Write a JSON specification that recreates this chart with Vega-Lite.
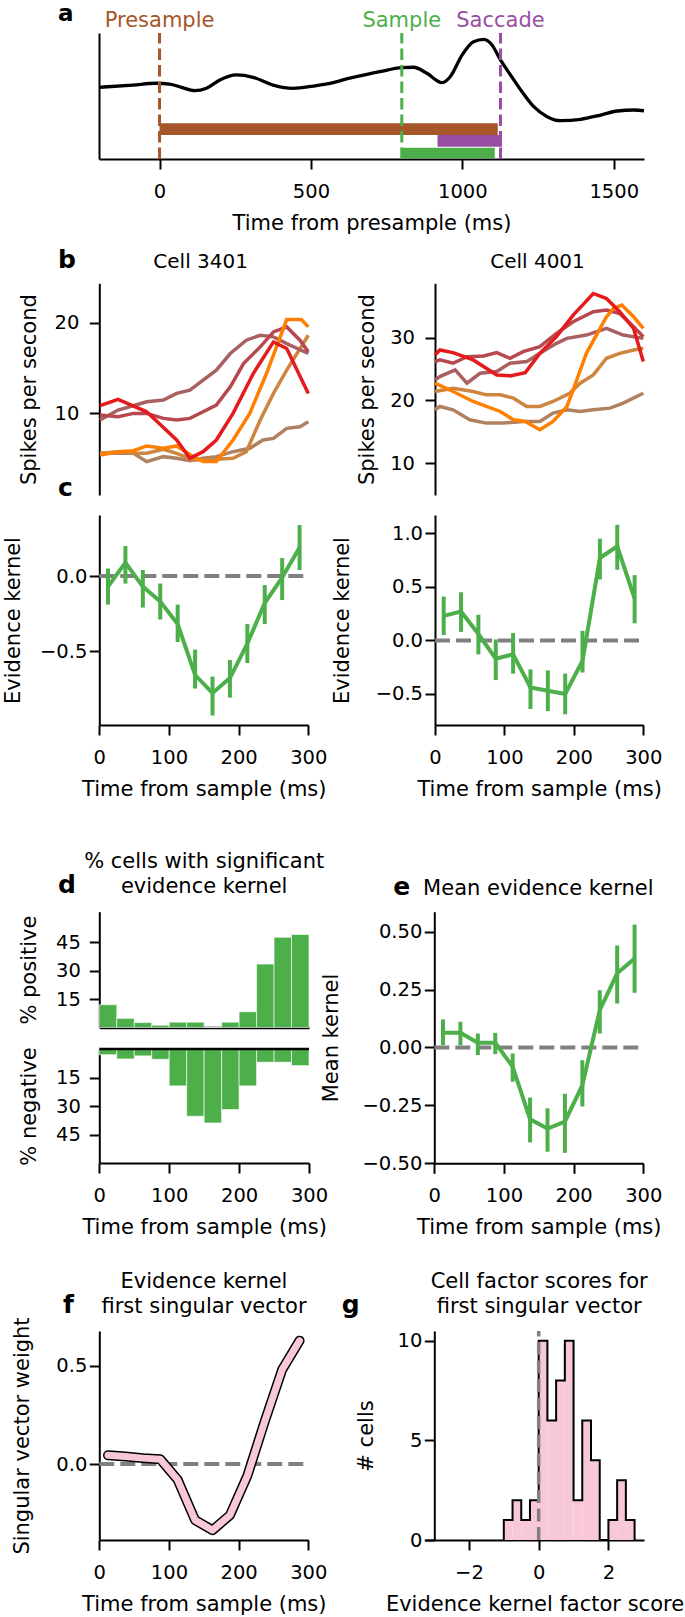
{
  "$schema": "https://vega.github.io/schema/vega-lite/v6.json",
  "width": 685,
  "height": 1617,
  "autosize": "none",
  "padding": 0,
  "background": "white",
  "config": {
    "view": {"stroke": null},
    "font": "DejaVu Sans",
    "axis": {"grid": false, "domainColor": "#000", "domainWidth": 2, "tickColor": "#000", "tickWidth": 2, "tickSize": 10, "labelFont": "DejaVu Sans", "labelFontSize": 19.5, "labelColor": "#000", "titleFont": "DejaVu Sans", "titleFontSize": 21, "titleFontWeight": "normal", "titleColor": "#000", "labelFlush": false, "labelOverlap": false},
    "text": {"font": "DejaVu Sans", "color": "#000"}
  },
  "resolve": {"scale": {"x": "independent", "y": "independent", "color": "independent"}, "axis": {"x": "independent", "y": "independent"}},
  "datasets": {
    "a_curve": [
      {"t": -200, "v": 0.569}, {"t": -88, "v": 0.587}, {"t": -11, "v": 0.601}, {"t": 33, "v": 0.595}, {"t": 72, "v": 0.569}, {"t": 116, "v": 0.542}, {"t": 155, "v": 0.561}, {"t": 199, "v": 0.627}, {"t": 254, "v": 0.667}, {"t": 309, "v": 0.648}, {"t": 375, "v": 0.587}, {"t": 441, "v": 0.561}, {"t": 508, "v": 0.579}, {"t": 574, "v": 0.606}, {"t": 613, "v": 0.632}, {"t": 662, "v": 0.659}, {"t": 728, "v": 0.693}, {"t": 800, "v": 0.725}, {"t": 839, "v": 0.728}, {"t": 883, "v": 0.68}, {"t": 933, "v": 0.606}, {"t": 960, "v": 0.653}, {"t": 999, "v": 0.825}, {"t": 1037, "v": 0.931}, {"t": 1071, "v": 0.95}, {"t": 1098, "v": 0.905}, {"t": 1126, "v": 0.786}, {"t": 1159, "v": 0.667}, {"t": 1197, "v": 0.534}, {"t": 1236, "v": 0.415}, {"t": 1280, "v": 0.336}, {"t": 1325, "v": 0.304}, {"t": 1391, "v": 0.315}, {"t": 1457, "v": 0.349}, {"t": 1512, "v": 0.381}, {"t": 1567, "v": 0.389}, {"t": 1600, "v": 0.383}
    ],
    "a_epochs": [
      {"epoch": "Presample", "start": 0, "end": 1117},
      {"epoch": "Saccade", "start": 918, "end": 1131},
      {"epoch": "Sample", "start": 797, "end": 1107}
    ],
    "a_events": [
      {"event": "Presample", "t": 0},
      {"event": "Sample", "t": 800},
      {"event": "Saccade", "t": 1126}
    ],
    "b_left": [
      {"cond": "1", "t": 1, "v": 5.59}, {"cond": "1", "t": 49, "v": 5.59}, {"cond": "1", "t": 68, "v": 4.67}, {"cond": "1", "t": 92, "v": 5.22}, {"cond": "1", "t": 111, "v": 5.04}, {"cond": "1", "t": 130, "v": 4.78}, {"cond": "1", "t": 149, "v": 5.04}, {"cond": "1", "t": 168, "v": 5.22}, {"cond": "1", "t": 192, "v": 5.77}, {"cond": "1", "t": 216, "v": 6.14}, {"cond": "1", "t": 235, "v": 7.06}, {"cond": "1", "t": 250, "v": 7.24}, {"cond": "1", "t": 269, "v": 8.35}, {"cond": "1", "t": 288, "v": 8.53}, {"cond": "1", "t": 300, "v": 9.08},
      {"cond": "2", "t": 1, "v": 5.59}, {"cond": "2", "t": 27, "v": 5.77}, {"cond": "2", "t": 49, "v": 5.59}, {"cond": "2", "t": 68, "v": 5.59}, {"cond": "2", "t": 92, "v": 6.03}, {"cond": "2", "t": 111, "v": 5.59}, {"cond": "2", "t": 135, "v": 4.85}, {"cond": "2", "t": 168, "v": 4.93}, {"cond": "2", "t": 192, "v": 5.04}, {"cond": "2", "t": 211, "v": 5.77}, {"cond": "2", "t": 231, "v": 9.26}, {"cond": "2", "t": 250, "v": 12.21}, {"cond": "2", "t": 269, "v": 14.78}, {"cond": "2", "t": 300, "v": 18.64},
      {"cond": "4", "t": 1, "v": 9.26}, {"cond": "4", "t": 27, "v": 10.37}, {"cond": "4", "t": 68, "v": 11.29}, {"cond": "4", "t": 92, "v": 11.47}, {"cond": "4", "t": 111, "v": 12.21}, {"cond": "4", "t": 130, "v": 12.57}, {"cond": "4", "t": 149, "v": 13.68}, {"cond": "4", "t": 168, "v": 14.78}, {"cond": "4", "t": 188, "v": 16.62}, {"cond": "4", "t": 211, "v": 18.09}, {"cond": "4", "t": 231, "v": 18.64}, {"cond": "4", "t": 250, "v": 18.46}, {"cond": "4", "t": 269, "v": 17.72}, {"cond": "4", "t": 300, "v": 16.62},
      {"cond": "5", "t": 1, "v": 9.82}, {"cond": "5", "t": 27, "v": 9.63}, {"cond": "5", "t": 49, "v": 10.0}, {"cond": "5", "t": 68, "v": 10.0}, {"cond": "5", "t": 92, "v": 9.45}, {"cond": "5", "t": 111, "v": 9.26}, {"cond": "5", "t": 130, "v": 9.45}, {"cond": "5", "t": 149, "v": 10.18}, {"cond": "5", "t": 168, "v": 10.92}, {"cond": "5", "t": 188, "v": 12.94}, {"cond": "5", "t": 207, "v": 15.51}, {"cond": "5", "t": 231, "v": 17.35}, {"cond": "5", "t": 250, "v": 19.01}, {"cond": "5", "t": 269, "v": 19.56}, {"cond": "5", "t": 288, "v": 18.09}, {"cond": "5", "t": 300, "v": 16.8},
      {"cond": "3", "t": 1, "v": 5.4}, {"cond": "3", "t": 27, "v": 5.77}, {"cond": "3", "t": 49, "v": 5.88}, {"cond": "3", "t": 68, "v": 6.4}, {"cond": "3", "t": 92, "v": 6.14}, {"cond": "3", "t": 111, "v": 6.4}, {"cond": "3", "t": 135, "v": 5.22}, {"cond": "3", "t": 149, "v": 4.67}, {"cond": "3", "t": 168, "v": 4.67}, {"cond": "3", "t": 192, "v": 7.06}, {"cond": "3", "t": 216, "v": 10.0}, {"cond": "3", "t": 240, "v": 14.41}, {"cond": "3", "t": 269, "v": 20.37}, {"cond": "3", "t": 290, "v": 20.37}, {"cond": "3", "t": 300, "v": 19.56},
      {"cond": "6", "t": 1, "v": 10.85}, {"cond": "6", "t": 27, "v": 11.54}, {"cond": "6", "t": 68, "v": 10.18}, {"cond": "6", "t": 111, "v": 7.06}, {"cond": "6", "t": 130, "v": 5.04}, {"cond": "6", "t": 149, "v": 5.77}, {"cond": "6", "t": 168, "v": 7.06}, {"cond": "6", "t": 192, "v": 10.0}, {"cond": "6", "t": 221, "v": 14.41}, {"cond": "6", "t": 250, "v": 17.9}, {"cond": "6", "t": 269, "v": 17.17}, {"cond": "6", "t": 300, "v": 12.21}
    ],
    "b_right": [
      {"cond": "1", "t": 0, "v": 18.52}, {"cond": "1", "t": 7, "v": 19.05}, {"cond": "1", "t": 26, "v": 18.52}, {"cond": "1", "t": 50, "v": 16.93}, {"cond": "1", "t": 74, "v": 16.4}, {"cond": "1", "t": 98, "v": 16.4}, {"cond": "1", "t": 127, "v": 16.67}, {"cond": "1", "t": 151, "v": 16.67}, {"cond": "1", "t": 170, "v": 17.99}, {"cond": "1", "t": 190, "v": 18.52}, {"cond": "1", "t": 209, "v": 18.25}, {"cond": "1", "t": 228, "v": 18.52}, {"cond": "1", "t": 252, "v": 18.78}, {"cond": "1", "t": 271, "v": 19.58}, {"cond": "1", "t": 300, "v": 21.16},
      {"cond": "2", "t": 0, "v": 21.43}, {"cond": "2", "t": 26, "v": 21.96}, {"cond": "2", "t": 55, "v": 21.43}, {"cond": "2", "t": 74, "v": 20.9}, {"cond": "2", "t": 94, "v": 20.9}, {"cond": "2", "t": 113, "v": 20.37}, {"cond": "2", "t": 132, "v": 19.05}, {"cond": "2", "t": 151, "v": 19.05}, {"cond": "2", "t": 170, "v": 19.84}, {"cond": "2", "t": 194, "v": 21.16}, {"cond": "2", "t": 209, "v": 22.75}, {"cond": "2", "t": 228, "v": 24.07}, {"cond": "2", "t": 247, "v": 26.72}, {"cond": "2", "t": 266, "v": 27.51}, {"cond": "2", "t": 286, "v": 28.04}, {"cond": "2", "t": 300, "v": 28.31},
      {"cond": "4", "t": 0, "v": 23.28}, {"cond": "4", "t": 7, "v": 23.81}, {"cond": "4", "t": 29, "v": 24.87}, {"cond": "4", "t": 46, "v": 22.75}, {"cond": "4", "t": 65, "v": 24.34}, {"cond": "4", "t": 89, "v": 24.6}, {"cond": "4", "t": 108, "v": 25.93}, {"cond": "4", "t": 132, "v": 26.19}, {"cond": "4", "t": 151, "v": 27.51}, {"cond": "4", "t": 175, "v": 29.1}, {"cond": "4", "t": 190, "v": 29.89}, {"cond": "4", "t": 218, "v": 30.42}, {"cond": "4", "t": 247, "v": 31.48}, {"cond": "4", "t": 271, "v": 30.42}, {"cond": "4", "t": 300, "v": 29.89},
      {"cond": "5", "t": 0, "v": 26.19}, {"cond": "5", "t": 7, "v": 26.46}, {"cond": "5", "t": 26, "v": 25.93}, {"cond": "5", "t": 46, "v": 26.98}, {"cond": "5", "t": 70, "v": 27.09}, {"cond": "5", "t": 89, "v": 27.62}, {"cond": "5", "t": 108, "v": 26.72}, {"cond": "5", "t": 127, "v": 27.78}, {"cond": "5", "t": 151, "v": 28.57}, {"cond": "5", "t": 175, "v": 30.69}, {"cond": "5", "t": 199, "v": 32.54}, {"cond": "5", "t": 228, "v": 34.13}, {"cond": "5", "t": 247, "v": 34.39}, {"cond": "5", "t": 266, "v": 33.86}, {"cond": "5", "t": 286, "v": 31.75}, {"cond": "5", "t": 300, "v": 30.16},
      {"cond": "3", "t": 0, "v": 22.75}, {"cond": "3", "t": 26, "v": 21.43}, {"cond": "3", "t": 55, "v": 19.84}, {"cond": "3", "t": 74, "v": 19.05}, {"cond": "3", "t": 94, "v": 18.25}, {"cond": "3", "t": 113, "v": 16.93}, {"cond": "3", "t": 130, "v": 16.67}, {"cond": "3", "t": 151, "v": 15.34}, {"cond": "3", "t": 170, "v": 16.67}, {"cond": "3", "t": 190, "v": 19.05}, {"cond": "3", "t": 199, "v": 21.69}, {"cond": "3", "t": 218, "v": 27.51}, {"cond": "3", "t": 247, "v": 33.33}, {"cond": "3", "t": 257, "v": 34.66}, {"cond": "3", "t": 269, "v": 35.19}, {"cond": "3", "t": 286, "v": 33.33}, {"cond": "3", "t": 300, "v": 31.48},
      {"cond": "6", "t": 0, "v": 27.25}, {"cond": "6", "t": 7, "v": 28.04}, {"cond": "6", "t": 26, "v": 27.62}, {"cond": "6", "t": 55, "v": 26.46}, {"cond": "6", "t": 89, "v": 24.07}, {"cond": "6", "t": 108, "v": 23.92}, {"cond": "6", "t": 130, "v": 24.44}, {"cond": "6", "t": 151, "v": 27.51}, {"cond": "6", "t": 175, "v": 30.16}, {"cond": "6", "t": 199, "v": 33.6}, {"cond": "6", "t": 228, "v": 37.04}, {"cond": "6", "t": 247, "v": 36.24}, {"cond": "6", "t": 266, "v": 34.13}, {"cond": "6", "t": 286, "v": 31.48}, {"cond": "6", "t": 300, "v": 26.19}
    ],
    "c_left": [
      {"t": 12.5, "v": -0.07, "lo": -0.19, "hi": 0.05}, {"t": 37.5, "v": 0.09, "lo": -0.05, "hi": 0.2}, {"t": 62.5, "v": -0.07, "lo": -0.21, "hi": 0.04}, {"t": 87.5, "v": -0.17, "lo": -0.29, "hi": -0.05}, {"t": 112.5, "v": -0.32, "lo": -0.44, "hi": -0.19}, {"t": 137.5, "v": -0.66, "lo": -0.75, "hi": -0.49}, {"t": 162.5, "v": -0.78, "lo": -0.93, "hi": -0.67}, {"t": 187.5, "v": -0.68, "lo": -0.81, "hi": -0.56}, {"t": 212.5, "v": -0.45, "lo": -0.58, "hi": -0.32}, {"t": 237.5, "v": -0.18, "lo": -0.32, "hi": -0.06}, {"t": 262.5, "v": -0.01, "lo": -0.16, "hi": 0.12}, {"t": 287.5, "v": 0.19, "lo": 0.04, "hi": 0.34}
    ],
    "c_right": [
      {"t": 12.5, "v": 0.23, "lo": 0.05, "hi": 0.41}, {"t": 37.5, "v": 0.27, "lo": 0.08, "hi": 0.45}, {"t": 62.5, "v": 0.06, "lo": -0.13, "hi": 0.24}, {"t": 87.5, "v": -0.17, "lo": -0.37, "hi": 0.01}, {"t": 112.5, "v": -0.13, "lo": -0.31, "hi": 0.07}, {"t": 137.5, "v": -0.44, "lo": -0.64, "hi": -0.27}, {"t": 162.5, "v": -0.47, "lo": -0.66, "hi": -0.28}, {"t": 187.5, "v": -0.5, "lo": -0.69, "hi": -0.31}, {"t": 212.5, "v": -0.19, "lo": -0.3, "hi": 0.09}, {"t": 237.5, "v": 0.77, "lo": 0.57, "hi": 0.95}, {"t": 262.5, "v": 0.88, "lo": 0.66, "hi": 1.08}, {"t": 287.5, "v": 0.39, "lo": 0.16, "hi": 0.61}
    ],
    "d_bins": [
      {"start": 0, "end": 25, "pos": 12.0, "neg": 3.0}, {"start": 25, "end": 50, "pos": 4.8, "neg": 5.2}, {"start": 50, "end": 75, "pos": 2.6, "neg": 3.6}, {"start": 75, "end": 100, "pos": 1.2, "neg": 5.4}, {"start": 100, "end": 125, "pos": 2.8, "neg": 19.3}, {"start": 125, "end": 150, "pos": 2.8, "neg": 35.2}, {"start": 150, "end": 175, "pos": 0, "neg": 38.7}, {"start": 175, "end": 200, "pos": 2.8, "neg": 31.7}, {"start": 200, "end": 225, "pos": 8.3, "neg": 19.3}, {"start": 225, "end": 250, "pos": 33.4, "neg": 6.9}, {"start": 250, "end": 275, "pos": 47.5, "neg": 6.9}, {"start": 275, "end": 300, "pos": 49.0, "neg": 8.7}
    ],
    "e_mean": [
      {"t": 12.5, "v": 0.063, "lo": 0.01, "hi": 0.121}, {"t": 37.5, "v": 0.063, "lo": 0.01, "hi": 0.111}, {"t": 62.5, "v": 0.02, "lo": -0.033, "hi": 0.06}, {"t": 87.5, "v": 0.02, "lo": -0.029, "hi": 0.063}, {"t": 112.5, "v": -0.083, "lo": -0.148, "hi": -0.026}, {"t": 137.5, "v": -0.31, "lo": -0.41, "hi": -0.216}, {"t": 162.5, "v": -0.35, "lo": -0.45, "hi": -0.263}, {"t": 187.5, "v": -0.32, "lo": -0.455, "hi": -0.2}, {"t": 212.5, "v": -0.163, "lo": -0.255, "hi": -0.055}, {"t": 237.5, "v": 0.161, "lo": 0.06, "hi": 0.247}, {"t": 262.5, "v": 0.32, "lo": 0.19, "hi": 0.44}, {"t": 287.5, "v": 0.384, "lo": 0.236, "hi": 0.53}
    ],
    "f_vec": [
      {"t": 12.5, "v": 0.045}, {"t": 37.5, "v": 0.038}, {"t": 62.5, "v": 0.03}, {"t": 87.5, "v": 0.024}, {"t": 112.5, "v": -0.08}, {"t": 137.5, "v": -0.285}, {"t": 162.5, "v": -0.336}, {"t": 187.5, "v": -0.26}, {"t": 212.5, "v": -0.06}, {"t": 237.5, "v": 0.217}, {"t": 262.5, "v": 0.48}, {"t": 287.5, "v": 0.627}
    ],
    "g_hist": [
      {"start": -1.0, "end": -0.75, "count": 1}, {"start": -0.75, "end": -0.5, "count": 2}, {"start": -0.5, "end": -0.25, "count": 1}, {"start": -0.25, "end": 0.0, "count": 2}, {"start": 0.0, "end": 0.25, "count": 10}, {"start": 0.25, "end": 0.5, "count": 6}, {"start": 0.5, "end": 0.75, "count": 8}, {"start": 0.75, "end": 1.0, "count": 10}, {"start": 1.0, "end": 1.25, "count": 2}, {"start": 1.25, "end": 1.5, "count": 6}, {"start": 1.5, "end": 1.75, "count": 4}, {"start": 1.75, "end": 2.0, "count": 0}, {"start": 2.0, "end": 2.25, "count": 1}, {"start": 2.25, "end": 2.5, "count": 3}, {"start": 2.5, "end": 2.75, "count": 1}
    ],
    "g_outline": [
      {"i": 0, "x": -1.0, "y": 0}, {"i": 1, "x": -1.0, "y": 1}, {"i": 2, "x": -0.75, "y": 2}, {"i": 3, "x": -0.5, "y": 1}, {"i": 4, "x": -0.25, "y": 2}, {"i": 5, "x": 0.0, "y": 10}, {"i": 6, "x": 0.25, "y": 6}, {"i": 7, "x": 0.5, "y": 8}, {"i": 8, "x": 0.75, "y": 10}, {"i": 9, "x": 1.0, "y": 2}, {"i": 10, "x": 1.25, "y": 6}, {"i": 11, "x": 1.5, "y": 4}, {"i": 12, "x": 1.75, "y": 0}, {"i": 13, "x": 2.0, "y": 1}, {"i": 14, "x": 2.25, "y": 3}, {"i": 15, "x": 2.5, "y": 1}, {"i": 16, "x": 2.75, "y": 0}
    ]
  },
  "layer": [
    {
      "layer": [
        {
          "data": {"name": "a_curve"},
          "mark": {"type": "line", "color": "#000", "strokeWidth": 3.3, "interpolate": "monotone"},
          "encoding": {
            "x": {"field": "t", "type": "quantitative", "scale": {"domain": [-200, 1600], "range": [99, 644], "nice": false, "zero": false}, "axis": {"orient": "bottom", "offset": -1458, "values": [0, 500, 1000, 1500], "format": "d", "title": "Time from presample (ms)", "labelBaseline": "alphabetic", "labelPadding": 28.3, "titleBaseline": "alphabetic", "titleY": 70.3}},
            "y": {"field": "v", "type": "quantitative", "scale": {"domain": [0, 1], "range": [159, 33], "nice": false, "zero": false}, "axis": {"orient": "left", "offset": -99, "ticks": false, "labels": false, "title": null}}
          }
        },
        {
          "data": {"name": "a_epochs"},
          "transform": [{"filter": "datum.epoch === 'Presample'"}],
          "mark": {"type": "rect", "color": "#a65628"},
          "encoding": {
            "x": {"field": "start", "type": "quantitative", "scale": {"domain": [-200, 1600], "range": [99, 644], "nice": false, "zero": false}},
            "x2": {"field": "end"},
            "y": {"datum": 0.19, "type": "quantitative", "scale": {"domain": [0, 1], "range": [159, 33], "nice": false, "zero": false}},
            "y2": {"datum": 0.283}
          }
        },
        {
          "data": {"name": "a_epochs"},
          "transform": [{"filter": "datum.epoch === 'Saccade'"}],
          "mark": {"type": "rect", "color": "#984ea3"},
          "encoding": {
            "x": {"field": "start", "type": "quantitative", "scale": {"domain": [-200, 1600], "range": [99, 644], "nice": false, "zero": false}},
            "x2": {"field": "end"},
            "y": {"datum": 0.098, "type": "quantitative", "scale": {"domain": [0, 1], "range": [159, 33], "nice": false, "zero": false}},
            "y2": {"datum": 0.19}
          }
        },
        {
          "data": {"name": "a_epochs"},
          "transform": [{"filter": "datum.epoch === 'Sample'"}],
          "mark": {"type": "rect", "color": "#4daf4a"},
          "encoding": {
            "x": {"field": "start", "type": "quantitative", "scale": {"domain": [-200, 1600], "range": [99, 644], "nice": false, "zero": false}},
            "x2": {"field": "end"},
            "y": {"datum": 0.005, "type": "quantitative", "scale": {"domain": [0, 1], "range": [159, 33], "nice": false, "zero": false}},
            "y2": {"datum": 0.09}
          }
        },
        {
          "data": {"name": "a_events"},
          "mark": {"type": "rule", "strokeWidth": 3, "strokeDash": [11.5, 5]},
          "encoding": {
            "x": {"field": "t", "type": "quantitative", "scale": {"domain": [-200, 1600], "range": [99, 644], "nice": false, "zero": false}},
            "y": {"datum": 0, "type": "quantitative", "scale": {"domain": [0, 1], "range": [159, 33], "nice": false, "zero": false}},
            "y2": {"datum": 1},
            "color": {"field": "event", "type": "nominal", "scale": {"domain": ["Presample", "Sample", "Saccade"], "range": ["#a65628", "#4daf4a", "#984ea3"]}, "legend": null}
          }
        },
        {
          "data": {"name": "a_events"},
          "mark": {"type": "text", "fontSize": 21, "align": "center", "baseline": "alphabetic"},
          "encoding": {
            "x": {"field": "t", "type": "quantitative", "scale": {"domain": [-200, 1600], "range": [99, 644], "nice": false, "zero": false}},
            "y": {"datum": 1.05, "type": "quantitative", "scale": {"domain": [0, 1], "range": [159, 33], "nice": false, "zero": false}},
            "text": {"field": "event"},
            "color": {"field": "event", "type": "nominal", "scale": {"domain": ["Presample", "Sample", "Saccade"], "range": ["#a65628", "#4daf4a", "#984ea3"]}, "legend": null}
          }
        },
        {
          "data": {"values": [{}]},
          "mark": {"type": "text", "text": "a", "fontSize": 23, "fontWeight": "bold", "align": "left", "baseline": "alphabetic"},
          "encoding": {
            "x": {"datum": -335.4, "type": "quantitative", "scale": {"domain": [-200, 1600], "range": [99, 644], "nice": false, "zero": false}},
            "y": {"datum": 1.094, "type": "quantitative", "scale": {"domain": [0, 1], "range": [159, 33], "nice": false, "zero": false}}
          }
        }
      ]
    },
    {
      "layer": [
        {
          "data": {"name": "b_left"},
          "mark": {"type": "line", "strokeWidth": 3.5},
          "encoding": {
            "x": {"field": "t", "type": "quantitative", "scale": {"domain": [0, 300], "range": [99.3, 308.3], "nice": false, "zero": false}, "axis": null},
            "y": {"field": "v", "type": "quantitative", "scale": {"domain": [0.98, 24.38], "range": [495, 283.3], "nice": false, "zero": false}, "axis": {"orient": "left", "offset": -99.3, "values": [10, 20], "format": "d", "title": "Spikes per second", "titleX": -64, "titleBaseline": "alphabetic", "labelPadding": 10.5}},
            "color": {"field": "cond", "type": "nominal", "scale": {"domain": ["1", "2", "3", "4", "5", "6"], "range": ["#b08060", "#cd853f", "#ff7f00", "#a86060", "#b84850", "#e41a1c"]}, "legend": null}
          }
        },
        {
          "data": {"values": [{}]},
          "mark": {"type": "text", "text": "Cell 3401", "fontSize": 20, "align": "center", "baseline": "alphabetic"},
          "encoding": {
            "x": {"datum": 145.5, "type": "quantitative", "scale": {"domain": [0, 300], "range": [99.3, 308.3], "nice": false, "zero": false}, "axis": null},
            "y": {"datum": 26.04, "type": "quantitative", "scale": {"domain": [0.98, 24.38], "range": [495, 283.3], "nice": false, "zero": false}}
          }
        },
        {
          "data": {"values": [{}]},
          "mark": {"type": "text", "text": "b", "fontSize": 25, "fontWeight": "bold", "align": "left", "baseline": "alphabetic"},
          "encoding": {
            "x": {"datum": -59.3, "type": "quantitative", "scale": {"domain": [0, 300], "range": [99.3, 308.3], "nice": false, "zero": false}, "axis": null},
            "y": {"datum": 26.04, "type": "quantitative", "scale": {"domain": [0.98, 24.38], "range": [495, 283.3], "nice": false, "zero": false}}
          }
        }
      ]
    },
    {
      "layer": [
        {
          "data": {"name": "b_right"},
          "mark": {"type": "line", "strokeWidth": 3.5},
          "encoding": {
            "x": {"field": "t", "type": "quantitative", "scale": {"domain": [0, 300], "range": [435, 643.3], "nice": false, "zero": false}, "axis": null},
            "y": {"field": "v", "type": "quantitative", "scale": {"domain": [4.95, 38.66], "range": [495, 283.3], "nice": false, "zero": false}, "axis": {"orient": "left", "offset": -435, "values": [10, 20, 30], "format": "d", "title": "Spikes per second", "titleX": -61.4, "titleBaseline": "alphabetic", "labelPadding": 10.5}},
            "color": {"field": "cond", "type": "nominal", "scale": {"domain": ["1", "2", "3", "4", "5", "6"], "range": ["#b08060", "#cd853f", "#ff7f00", "#a86060", "#b84850", "#e41a1c"]}, "legend": null}
          }
        },
        {
          "data": {"values": [{}]},
          "mark": {"type": "text", "text": "Cell 4001", "fontSize": 20, "align": "center", "baseline": "alphabetic"},
          "encoding": {
            "x": {"datum": 147.6, "type": "quantitative", "scale": {"domain": [0, 300], "range": [435, 643.3], "nice": false, "zero": false}, "axis": null},
            "y": {"datum": 41.05, "type": "quantitative", "scale": {"domain": [4.95, 38.66], "range": [495, 283.3], "nice": false, "zero": false}}
          }
        }
      ]
    },
    {
      "layer": [
        {
          "data": {"values": [{}]},
          "mark": {"type": "rule", "color": "#808080", "strokeWidth": 4, "strokeDash": [15, 6]},
          "encoding": {
            "x": {"datum": 0, "type": "quantitative", "scale": {"domain": [0, 300], "range": [99.3, 308.3], "nice": false, "zero": false}},
            "x2": {"datum": 300},
            "y": {"datum": 0, "type": "quantitative", "scale": {"domain": [-0.993, 0.407], "range": [725, 515], "nice": false, "zero": false}}
          }
        },
        {
          "data": {"name": "c_left"},
          "mark": {"type": "rule", "color": "#4daf4a", "strokeWidth": 4},
          "encoding": {
            "x": {"field": "t", "type": "quantitative", "scale": {"domain": [0, 300], "range": [99.3, 308.3], "nice": false, "zero": false}},
            "y": {"field": "lo", "type": "quantitative", "scale": {"domain": [-0.993, 0.407], "range": [725, 515], "nice": false, "zero": false}},
            "y2": {"field": "hi"}
          }
        },
        {
          "data": {"name": "c_left"},
          "mark": {"type": "line", "color": "#4daf4a", "strokeWidth": 4},
          "encoding": {
            "x": {"field": "t", "type": "quantitative", "scale": {"domain": [0, 300], "range": [99.3, 308.3], "nice": false, "zero": false}, "axis": {"orient": "bottom", "offset": -892, "values": [0, 100, 200, 300], "format": "d", "title": "Time from sample (ms)", "labelBaseline": "alphabetic", "labelPadding": 28.3, "titleBaseline": "alphabetic", "titleY": 70.3}},
            "y": {"field": "v", "type": "quantitative", "scale": {"domain": [-0.993, 0.407], "range": [725, 515], "nice": false, "zero": false}, "axis": {"orient": "left", "offset": -99.3, "values": [-0.5, 0], "format": ".1f", "title": "Evidence kernel", "titleX": -79.8, "titleBaseline": "alphabetic", "labelPadding": 2.5}}
          }
        },
        {
          "data": {"values": [{}]},
          "mark": {"type": "text", "text": "c", "fontSize": 25, "fontWeight": "bold", "align": "left", "baseline": "alphabetic"},
          "encoding": {
            "x": {"datum": -59.3, "type": "quantitative", "scale": {"domain": [0, 300], "range": [99.3, 308.3], "nice": false, "zero": false}},
            "y": {"datum": 0.5337, "type": "quantitative", "scale": {"domain": [-0.993, 0.407], "range": [725, 515], "nice": false, "zero": false}}
          }
        }
      ]
    },
    {
      "layer": [
        {
          "data": {"values": [{}]},
          "mark": {"type": "rule", "color": "#808080", "strokeWidth": 4, "strokeDash": [15, 6]},
          "encoding": {
            "x": {"datum": 0, "type": "quantitative", "scale": {"domain": [0, 300], "range": [435, 643.3], "nice": false, "zero": false}},
            "x2": {"datum": 300},
            "y": {"datum": 0, "type": "quantitative", "scale": {"domain": [-0.79, 1.172], "range": [725, 515], "nice": false, "zero": false}}
          }
        },
        {
          "data": {"name": "c_right"},
          "mark": {"type": "rule", "color": "#4daf4a", "strokeWidth": 4},
          "encoding": {
            "x": {"field": "t", "type": "quantitative", "scale": {"domain": [0, 300], "range": [435, 643.3], "nice": false, "zero": false}},
            "y": {"field": "lo", "type": "quantitative", "scale": {"domain": [-0.79, 1.172], "range": [725, 515], "nice": false, "zero": false}},
            "y2": {"field": "hi"}
          }
        },
        {
          "data": {"name": "c_right"},
          "mark": {"type": "line", "color": "#4daf4a", "strokeWidth": 4},
          "encoding": {
            "x": {"field": "t", "type": "quantitative", "scale": {"domain": [0, 300], "range": [435, 643.3], "nice": false, "zero": false}, "axis": {"orient": "bottom", "offset": -892, "values": [0, 100, 200, 300], "format": "d", "title": "Time from sample (ms)", "labelBaseline": "alphabetic", "labelPadding": 28.3, "titleBaseline": "alphabetic", "titleY": 70.3}},
            "y": {"field": "v", "type": "quantitative", "scale": {"domain": [-0.79, 1.172], "range": [725, 515], "nice": false, "zero": false}, "axis": {"orient": "left", "offset": -435, "values": [-0.5, 0, 0.5, 1.0], "format": ".1f", "title": "Evidence kernel", "titleX": -86.7, "titleBaseline": "alphabetic", "labelPadding": 2.5}}
          }
        }
      ]
    },
    {
      "layer": [
        {
          "data": {"name": "d_bins"},
          "mark": {"type": "rect", "color": "#4daf4a", "stroke": "#ffffff", "strokeWidth": 0.6},
          "encoding": {
            "x": {"field": "start", "type": "quantitative", "scale": {"domain": [0, 300], "range": [99.3, 309], "nice": false, "zero": false}, "axis": {"orient": "bottom", "offset": -589.5, "ticks": false, "labels": false, "title": null, "domainWidth": 2.7}},
            "x2": {"field": "end"},
            "y": {"field": "pos", "type": "quantitative", "scale": {"domain": [0, 61], "range": [1027.5, 911.7], "nice": false, "zero": false}, "axis": {"orient": "left", "offset": -99.3, "values": [15, 30, 45], "format": "d", "title": "% positive", "titleX": -64, "titleBaseline": "alphabetic", "labelPadding": 9}},
            "y2": {"datum": 0}
          }
        },
        {
          "data": {"values": [{}]},
          "mark": {"type": "text", "text": "% cells with significant", "fontSize": 21, "align": "center", "baseline": "alphabetic"},
          "encoding": {
            "x": {"datum": 150, "type": "quantitative", "scale": {"domain": [0, 300], "range": [99.3, 309], "nice": false, "zero": false}},
            "y": {"datum": 83.86, "type": "quantitative", "scale": {"domain": [0, 61], "range": [1027.5, 911.7], "nice": false, "zero": false}}
          }
        },
        {
          "data": {"values": [{}]},
          "mark": {"type": "text", "text": "evidence kernel", "fontSize": 21, "align": "center", "baseline": "alphabetic"},
          "encoding": {
            "x": {"datum": 150, "type": "quantitative", "scale": {"domain": [0, 300], "range": [99.3, 309], "nice": false, "zero": false}},
            "y": {"datum": 70.69, "type": "quantitative", "scale": {"domain": [0, 61], "range": [1027.5, 911.7], "nice": false, "zero": false}}
          }
        },
        {
          "data": {"values": [{}]},
          "mark": {"type": "text", "text": "d", "fontSize": 25, "fontWeight": "bold", "align": "left", "baseline": "alphabetic"},
          "encoding": {
            "x": {"datum": -59.1, "type": "quantitative", "scale": {"domain": [0, 300], "range": [99.3, 309], "nice": false, "zero": false}},
            "y": {"datum": 70.69, "type": "quantitative", "scale": {"domain": [0, 61], "range": [1027.5, 911.7], "nice": false, "zero": false}}
          }
        }
      ]
    },
    {
      "layer": [
        {
          "data": {"name": "d_bins"},
          "mark": {"type": "rect", "color": "#4daf4a", "stroke": "#ffffff", "strokeWidth": 0.6},
          "encoding": {
            "x": {"field": "start", "type": "quantitative", "scale": {"domain": [0, 300], "range": [99.3, 309], "nice": false, "zero": false}, "axis": {"orient": "bottom", "offset": -454, "values": [0, 100, 200, 300], "format": "d", "title": "Time from sample (ms)", "labelBaseline": "alphabetic", "labelPadding": 28.3, "titleBaseline": "alphabetic", "titleY": 70.3}},
            "x2": {"field": "end"},
            "y": {"field": "neg", "type": "quantitative", "scale": {"domain": [0, 59.7], "range": [1049, 1163], "nice": false, "zero": false}, "axis": {"orient": "left", "offset": -99.3, "values": [15, 30, 45], "format": "d", "title": "% negative", "titleX": -64, "titleBaseline": "alphabetic", "labelPadding": 9}},
            "y2": {"datum": 0}
          }
        },
        {
          "data": {"values": [{}]},
          "mark": {"type": "rule", "color": "#000", "strokeWidth": 2.7},
          "encoding": {
            "x": {"datum": 0, "type": "quantitative", "scale": {"domain": [0, 300], "range": [99.3, 309], "nice": false, "zero": false}},
            "x2": {"datum": 300},
            "y": {"datum": 0, "type": "quantitative", "scale": {"domain": [0, 59.7], "range": [1049, 1163], "nice": false, "zero": false}}
          }
        }
      ]
    },
    {
      "layer": [
        {
          "data": {"values": [{}]},
          "mark": {"type": "rule", "color": "#808080", "strokeWidth": 4, "strokeDash": [15, 6]},
          "encoding": {
            "x": {"datum": 0, "type": "quantitative", "scale": {"domain": [0, 300], "range": [434.3, 643.3], "nice": false, "zero": false}},
            "x2": {"datum": 300},
            "y": {"datum": 0, "type": "quantitative", "scale": {"domain": [-0.5, 0.586], "range": [1163.3, 911.7], "nice": false, "zero": false}}
          }
        },
        {
          "data": {"name": "e_mean"},
          "mark": {"type": "rule", "color": "#4daf4a", "strokeWidth": 4},
          "encoding": {
            "x": {"field": "t", "type": "quantitative", "scale": {"domain": [0, 300], "range": [434.3, 643.3], "nice": false, "zero": false}},
            "y": {"field": "lo", "type": "quantitative", "scale": {"domain": [-0.5, 0.586], "range": [1163.3, 911.7], "nice": false, "zero": false}},
            "y2": {"field": "hi"}
          }
        },
        {
          "data": {"name": "e_mean"},
          "mark": {"type": "line", "color": "#4daf4a", "strokeWidth": 4},
          "encoding": {
            "x": {"field": "t", "type": "quantitative", "scale": {"domain": [0, 300], "range": [434.3, 643.3], "nice": false, "zero": false}, "axis": {"orient": "bottom", "offset": -453.7, "values": [0, 100, 200, 300], "format": "d", "title": "Time from sample (ms)", "labelBaseline": "alphabetic", "labelPadding": 28.3, "titleBaseline": "alphabetic", "titleY": 70.3}},
            "y": {"field": "v", "type": "quantitative", "scale": {"domain": [-0.5, 0.586], "range": [1163.3, 911.7], "nice": false, "zero": false}, "axis": {"orient": "left", "offset": -434.3, "values": [-0.5, -0.25, 0, 0.25, 0.5], "format": ".2f", "title": "Mean kernel", "titleX": -97.3, "titleBaseline": "alphabetic", "labelPadding": 2.5}}
          }
        },
        {
          "data": {"values": [{}]},
          "mark": {"type": "text", "text": "Mean evidence kernel", "fontSize": 21, "align": "center", "baseline": "alphabetic"},
          "encoding": {
            "x": {"datum": 149.3, "type": "quantitative", "scale": {"domain": [0, 300], "range": [434.3, 643.3], "nice": false, "zero": false}},
            "y": {"datum": 0.658, "type": "quantitative", "scale": {"domain": [-0.5, 0.586], "range": [1163.3, 911.7], "nice": false, "zero": false}}
          }
        },
        {
          "data": {"values": [{}]},
          "mark": {"type": "text", "text": "e", "fontSize": 25, "fontWeight": "bold", "align": "left", "baseline": "alphabetic"},
          "encoding": {
            "x": {"datum": -58.9, "type": "quantitative", "scale": {"domain": [0, 300], "range": [434.3, 643.3], "nice": false, "zero": false}},
            "y": {"datum": 0.658, "type": "quantitative", "scale": {"domain": [-0.5, 0.586], "range": [1163.3, 911.7], "nice": false, "zero": false}}
          }
        }
      ]
    },
    {
      "layer": [
        {
          "data": {"values": [{}]},
          "mark": {"type": "rule", "color": "#808080", "strokeWidth": 4, "strokeDash": [15, 6]},
          "encoding": {
            "x": {"datum": 0, "type": "quantitative", "scale": {"domain": [0, 300], "range": [99.3, 308.3], "nice": false, "zero": false}},
            "x2": {"datum": 300},
            "y": {"datum": 0, "type": "quantitative", "scale": {"domain": [-0.386, 0.676], "range": [1540, 1331], "nice": false, "zero": false}}
          }
        },
        {
          "data": {"name": "f_vec"},
          "mark": {"type": "line", "color": "#000", "strokeWidth": 10, "strokeCap": "round", "strokeJoin": "round"},
          "encoding": {
            "x": {"field": "t", "type": "quantitative", "scale": {"domain": [0, 300], "range": [99.3, 308.3], "nice": false, "zero": false}, "axis": {"orient": "bottom", "offset": -77, "values": [0, 100, 200, 300], "format": "d", "title": "Time from sample (ms)", "labelBaseline": "alphabetic", "labelPadding": 28.3, "titleBaseline": "alphabetic", "titleY": 70.3}},
            "y": {"field": "v", "type": "quantitative", "scale": {"domain": [-0.386, 0.676], "range": [1540, 1331], "nice": false, "zero": false}, "axis": {"orient": "left", "offset": -99.3, "values": [0, 0.5], "format": ".1f", "title": "Singular vector weight", "titleX": -70.7, "titleBaseline": "alphabetic", "labelPadding": 2.5}}
          }
        },
        {
          "data": {"name": "f_vec"},
          "mark": {"type": "line", "color": "#f8c8da", "strokeWidth": 7, "strokeCap": "round", "strokeJoin": "round"},
          "encoding": {
            "x": {"field": "t", "type": "quantitative", "scale": {"domain": [0, 300], "range": [99.3, 308.3], "nice": false, "zero": false}},
            "y": {"field": "v", "type": "quantitative", "scale": {"domain": [-0.386, 0.676], "range": [1540, 1331], "nice": false, "zero": false}}
          }
        },
        {
          "data": {"values": [{}]},
          "mark": {"type": "text", "text": "Evidence kernel", "fontSize": 21, "align": "center", "baseline": "alphabetic"},
          "encoding": {
            "x": {"datum": 150.3, "type": "quantitative", "scale": {"domain": [0, 300], "range": [99.3, 308.3], "nice": false, "zero": false}},
            "y": {"datum": 0.893, "type": "quantitative", "scale": {"domain": [-0.386, 0.676], "range": [1540, 1331], "nice": false, "zero": false}}
          }
        },
        {
          "data": {"values": [{}]},
          "mark": {"type": "text", "text": "first singular vector", "fontSize": 21, "align": "center", "baseline": "alphabetic"},
          "encoding": {
            "x": {"datum": 150.3, "type": "quantitative", "scale": {"domain": [0, 300], "range": [99.3, 308.3], "nice": false, "zero": false}},
            "y": {"datum": 0.766, "type": "quantitative", "scale": {"domain": [-0.386, 0.676], "range": [1540, 1331], "nice": false, "zero": false}}
          }
        },
        {
          "data": {"values": [{}]},
          "mark": {"type": "text", "text": "f", "fontSize": 25, "fontWeight": "bold", "align": "left", "baseline": "alphabetic"},
          "encoding": {
            "x": {"datum": -52.1, "type": "quantitative", "scale": {"domain": [0, 300], "range": [99.3, 308.3], "nice": false, "zero": false}},
            "y": {"datum": 0.766, "type": "quantitative", "scale": {"domain": [-0.386, 0.676], "range": [1540, 1331], "nice": false, "zero": false}}
          }
        }
      ]
    },
    {
      "layer": [
        {
          "data": {"name": "g_hist"},
          "mark": {"type": "rect", "color": "#f8c8da"},
          "encoding": {
            "x": {"field": "start", "type": "quantitative", "scale": {"domain": [-3.26, 3.02], "range": [425, 644], "nice": false, "zero": false}, "axis": {"orient": "bottom", "offset": -77, "values": [-2, 0, 2], "format": "d", "title": "Evidence kernel factor score", "labelBaseline": "alphabetic", "labelPadding": 28.3, "titleBaseline": "alphabetic", "titleY": 70.3}},
            "x2": {"field": "end"},
            "y": {"field": "count", "type": "quantitative", "scale": {"domain": [0, 10.49], "range": [1540, 1331], "nice": false, "zero": false}, "axis": {"orient": "left", "offset": -434.3, "values": [0, 5, 10], "format": "d", "title": "# cells", "titleX": -62.3, "titleBaseline": "alphabetic", "labelPadding": 2.5}},
            "y2": {"datum": 0}
          }
        },
        {
          "data": {"name": "g_outline"},
          "mark": {"type": "line", "color": "#000", "strokeWidth": 2, "interpolate": "step-after"},
          "encoding": {
            "x": {"field": "x", "type": "quantitative", "scale": {"domain": [-3.26, 3.02], "range": [425, 644], "nice": false, "zero": false}},
            "y": {"field": "y", "type": "quantitative", "scale": {"domain": [0, 10.49], "range": [1540, 1331], "nice": false, "zero": false}},
            "order": {"field": "i", "type": "quantitative"}
          }
        },
        {
          "data": {"values": [{}]},
          "mark": {"type": "rule", "color": "#808080", "strokeWidth": 3.5, "strokeDash": [13, 5.5]},
          "encoding": {
            "x": {"datum": 0, "type": "quantitative", "scale": {"domain": [-3.26, 3.02], "range": [425, 644], "nice": false, "zero": false}},
            "y": {"datum": 0, "type": "quantitative", "scale": {"domain": [0, 10.49], "range": [1540, 1331], "nice": false, "zero": false}},
            "y2": {"datum": 10.49}
          }
        },
        {
          "data": {"values": [{}]},
          "mark": {"type": "text", "text": "Cell factor scores for", "fontSize": 21, "align": "center", "baseline": "alphabetic"},
          "encoding": {
            "x": {"datum": 0.015, "type": "quantitative", "scale": {"domain": [-3.26, 3.02], "range": [425, 644], "nice": false, "zero": false}},
            "y": {"datum": 12.633, "type": "quantitative", "scale": {"domain": [0, 10.49], "range": [1540, 1331], "nice": false, "zero": false}}
          }
        },
        {
          "data": {"values": [{}]},
          "mark": {"type": "text", "text": "first singular vector", "fontSize": 21, "align": "center", "baseline": "alphabetic"},
          "encoding": {
            "x": {"datum": 0.015, "type": "quantitative", "scale": {"domain": [-3.26, 3.02], "range": [425, 644], "nice": false, "zero": false}},
            "y": {"datum": 11.378, "type": "quantitative", "scale": {"domain": [0, 10.49], "range": [1540, 1331], "nice": false, "zero": false}}
          }
        },
        {
          "data": {"values": [{}]},
          "mark": {"type": "text", "text": "g", "fontSize": 25, "fontWeight": "bold", "align": "left", "baseline": "alphabetic"},
          "encoding": {
            "x": {"datum": -5.649, "type": "quantitative", "scale": {"domain": [-3.26, 3.02], "range": [425, 644], "nice": false, "zero": false}},
            "y": {"datum": 11.393, "type": "quantitative", "scale": {"domain": [0, 10.49], "range": [1540, 1331], "nice": false, "zero": false}}
          }
        }
      ]
    }
  ]
}
